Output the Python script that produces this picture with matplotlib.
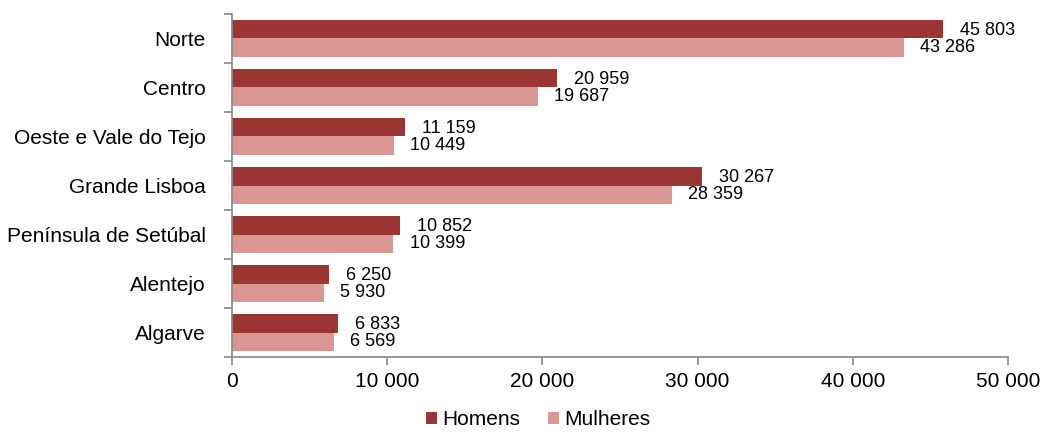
import numpy as np
import matplotlib.pyplot as plt
from matplotlib.ticker import FuncFormatter

plt.rcParams['font.family'] = ['Liberation Sans', 'DejaVu Sans']

# data
regioes = ['Norte', 'Centro', 'Oeste e Vale do Tejo', 'Grande Lisboa',
           'Península de Setúbal', 'Alentejo', 'Algarve']
homens = [45803, 20959, 11159, 30267, 10852, 6250, 6833]
mulheres = [43286, 19687, 10449, 28359, 10399, 5930, 6569]

cor_h = '#9E3535'
cor_m = '#D99694'

def fmt(v):
    return '{:,}'.format(int(v)).replace(',', ' ')

fig = plt.figure(figsize=(10.43, 4.32), dpi=100)
ax = fig.add_axes([0.2224, 0.1736, 0.744, 0.794])

y = np.arange(len(regioes))
h = 0.377
bh = ax.barh(y - h/2, homens, height=h, color=cor_h, label='Homens')
bm = ax.barh(y + h/2, mulheres, height=h, color=cor_m, label='Mulheres')

for yi, v in zip(y, homens):
    ax.text(v + 1100, yi - h/2 + 0.02, fmt(v), va='center', ha='left', fontsize=13)
for yi, v in zip(y, mulheres):
    ax.text(v + 1050, yi + h/2 - 0.01, fmt(v), va='center', ha='left', fontsize=13)

ax.set_xlim(0, 50000)
ax.set_ylim(len(regioes) - 0.5, -0.5)
ax.set_xticks(np.arange(0, 50001, 10000))
ax.xaxis.set_major_formatter(FuncFormatter(lambda v, p: fmt(v)))

ax.set_yticks(y)
ax.set_yticklabels(regioes, fontsize=15)
ax.set_yticks(np.arange(-0.5, len(regioes), 1), minor=True)
ax.tick_params(axis='y', which='major', length=0, pad=19)
ax.tick_params(axis='y', which='minor', length=6, color='#888888', width=1.2)
ax.tick_params(axis='x', length=6, color='#888888', width=1.2, labelsize=15, pad=5)

for s in ['top', 'right']:
    ax.spines[s].set_visible(False)
for s in ['left', 'bottom']:
    ax.spines[s].set_color('#888888')
    ax.spines[s].set_linewidth(1.2)

fig.legend(handles=[bh, bm], labels=['Homens', 'Mulheres'], loc='center',
           bbox_to_anchor=(0.516, 0.028), ncol=2, frameon=False, fontsize=15,
           handlelength=0.55, handleheight=0.55, handletextpad=0.25, columnspacing=1.3,
           borderpad=0.1)

fig.savefig('out.png', dpi=100)
